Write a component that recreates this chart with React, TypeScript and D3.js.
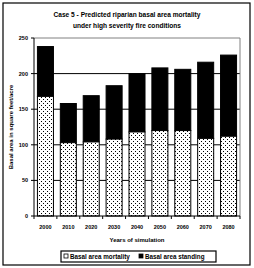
import * as d3 from 'd3'

const years = ['2000', '2010', '2020', '2030', '2040', '2050', '2060', '2070', '2080']
const mortality = [168, 103, 104, 108, 118, 120, 120, 109, 112]
const standing = [70, 55, 65, 75, 82, 88, 86, 107, 114]
const yTicks = [0, 50, 100, 150, 200, 250]

const W = 254
const H = 268
const margin = { top: 38, right: 14, bottom: 52, left: 34 }
const font = '"Liberation Sans", Arial, sans-serif'

export default function App() {
  const innerW = W - margin.left - margin.right
  const innerH = H - margin.top - margin.bottom

  const x = d3.scaleBand<string>().domain(years).range([0, innerW]).paddingInner(0.3).paddingOuter(0.15)
  const y = d3.scaleLinear().domain([0, 250]).range([innerH, 0])
  const step = x.step()

  const stacked = years.map((yr, i) => ({
    year: yr,
    m: mortality[i],
    total: mortality[i] + standing[i],
  }))

  return (
    <div style={{ position: 'absolute', left: 0, top: 0 }}>
      <svg width={W} height={H} style={{ display: 'block', background: '#fff' }}>
        <defs>
          <pattern id="dots" width={4} height={4} patternUnits="userSpaceOnUse">
            <rect width={4} height={4} fill="#fff" />
            <rect x={1} y={1} width={1} height={1} fill="#000" />
            <rect x={3} y={3} width={1} height={1} fill="#000" />
          </pattern>
        </defs>
        <rect x={3} y={3} width={247} height={262} fill="#fff" stroke="#000" strokeWidth={1.2} />

        <g fontFamily={font} fontWeight="bold" fill="#000">
          <text x={127} y={17} fontSize={6.6} textAnchor="middle">Case 5 - Predicted riparian basal area mortality</text>
          <text x={127} y={28} fontSize={6.6} textAnchor="middle">under high severity fire conditions</text>
        </g>

        <g transform={`translate(${margin.left},${margin.top})`}>
          {/* gridlines */}
          {yTicks.filter((t) => t > 0 && t < 250).map((t) => (
            <line key={t} x1={0} x2={innerW} y1={y(t)} y2={y(t)} stroke="#000" strokeWidth={1} />
          ))}
          {/* plot border top/right */}
          <line x1={0} x2={innerW} y1={y(250)} y2={y(250)} stroke="#808080" strokeWidth={1} />
          <line x1={innerW} x2={innerW} y1={0} y2={innerH} stroke="#808080" strokeWidth={1} />

          {stacked.map((d) => (
            <g key={d.year}>
              <rect
                x={x(d.year)!}
                y={y(d.total)}
                width={x.bandwidth()}
                height={y(d.m) - y(d.total)}
                fill="#000"
                stroke="#000"
                strokeWidth={1}
              />
              <rect
                x={x(d.year)!}
                y={y(d.m)}
                width={x.bandwidth()}
                height={y(0) - y(d.m)}
                fill="url(#dots)"
                stroke="#000"
                strokeWidth={1}
              />
            </g>
          ))}

          {/* axes */}
          <line x1={0} x2={0} y1={0} y2={innerH} stroke="#000" strokeWidth={1} />
          <line x1={0} x2={innerW} y1={innerH} y2={innerH} stroke="#000" strokeWidth={1} />
          {yTicks.map((t) => (
            <g key={t}>
              <line x1={-3} x2={0} y1={y(t)} y2={y(t)} stroke="#000" />
              <text x={-6} y={y(t) + 2} fontSize={5.5} fontFamily={font} fontWeight="bold" textAnchor="end">
                {t}
              </text>
            </g>
          ))}
          {d3.range(years.length + 1).map((i) => (
            <line key={i} x1={i * step} x2={i * step} y1={innerH} y2={innerH + 3} stroke="#000" />
          ))}
          {years.map((yr) => (
            <text
              key={yr}
              x={x(yr)! + x.bandwidth() / 2}
              y={innerH + 13}
              fontSize={5.5}
              fontFamily={font}
              fontWeight="bold"
              textAnchor="middle"
            >
              {yr}
            </text>
          ))}
          <text
            x={innerW / 2}
            y={innerH + 26}
            fontSize={6}
            fontFamily={font}
            fontWeight="bold"
            textAnchor="middle"
          >
            Years of simulation
          </text>
          <text
            transform={`translate(-21,${innerH / 2}) rotate(-90)`}
            fontSize={6}
            fontFamily={font}
            fontWeight="bold"
            textAnchor="middle"
          >
            Basal area in square feet/acre
          </text>
        </g>

        {/* legend */}
        <g fontFamily={font} fontWeight="bold" fontSize={6.3}>
          <rect x={61} y={251} width={155} height={11} fill="#fff" stroke="#000" strokeWidth={1.2} />
          <rect x={64} y={254} width={4} height={4} fill="#fff" stroke="#000" strokeWidth={0.8} />
          <text x={70} y={259}>Basal area mortality</text>
          <rect x={139} y={254} width={4} height={4} fill="#000" stroke="#000" strokeWidth={0.8} />
          <text x={145} y={259}>Basal area standing</text>
        </g>
      </svg>
    </div>
  )
}
